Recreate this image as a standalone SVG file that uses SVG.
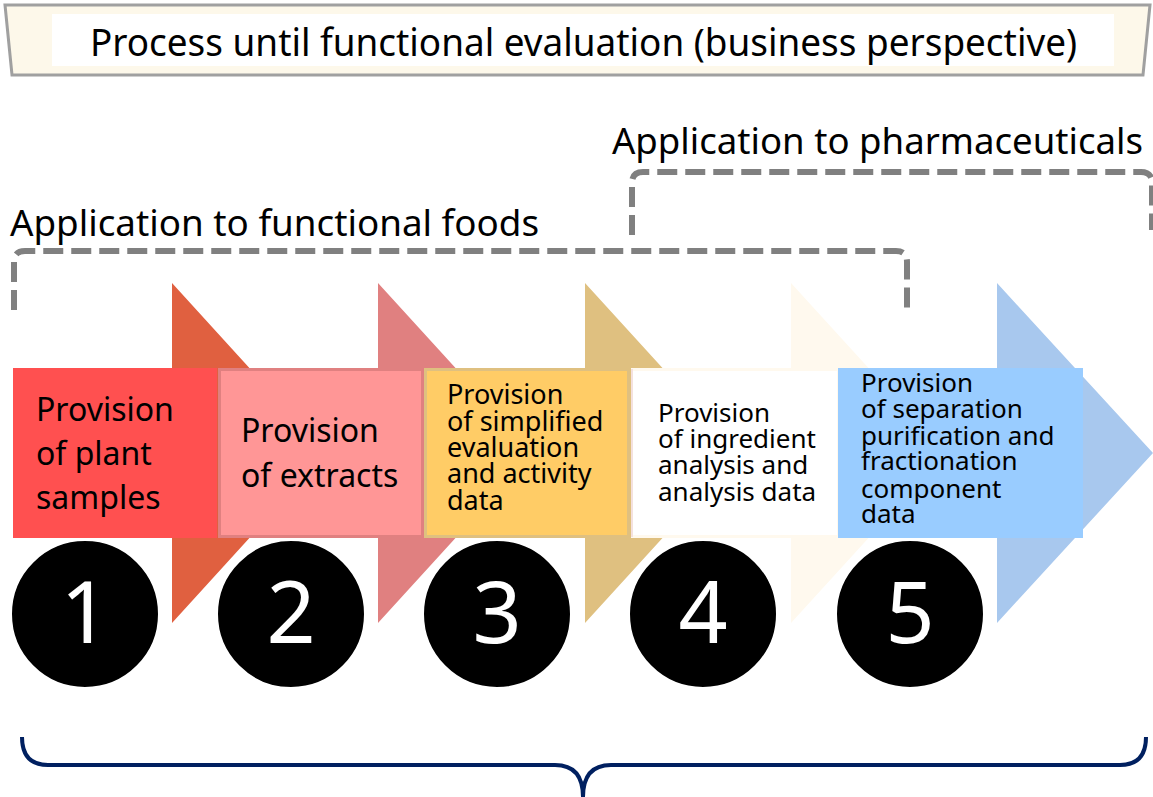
<svg xmlns="http://www.w3.org/2000/svg" width="1153" height="797" viewBox="0 0 1153 797">
<style>
.lbl{font-family:"Noto Sans","DejaVu Sans",sans-serif;fill:#000}
.big{font-size:32px}
.sm{font-size:26px}
.num{font-family:"Noto Sans","DejaVu Sans",sans-serif;font-size:86px;fill:#fff;text-anchor:middle}
.dash{fill:none;stroke:#808080;stroke-width:6;stroke-dasharray:20 8}
.circ{fill:#000;stroke:#fff;stroke-width:2}
.cap{font-family:"Noto Sans","DejaVu Sans",sans-serif;fill:#000}
</style>
<rect width="1153" height="797" fill="#fff"/>
<g id="title">
<polygon points="5,5 1150,5 1143,75 12,75" fill="#FDF8EA" stroke="#A0A0A0" stroke-width="3"/>
<rect x="52" y="14" width="1062" height="52" fill="#fff"/>
<text class="cap" x="90" y="56" font-size="38" textLength="987" lengthAdjust="spacingAndGlyphs">Process until functional evaluation (business perspective)</text>
</g>
<g id="connectors">
<path class="dash" d="M14,310 L14,262 Q14,251 25,251 L896,251 Q907,251 907,262 L907,310"/>
<path class="dash" d="M632,235 L632,183 Q632,172 643,172 L1141,172 Q1152,172 1152,183 L1152,230"/>
<path d="M22,737 C22,755 30,765 48,765 L555,765 C575,765 583,777 583,797 C583,777 591,765 611,765 L1120,765 C1138,765 1146,755 1146,737" fill="none" stroke="#002060" stroke-width="4"/>
</g>
<g id="label-foods"><text class="cap" x="10" y="236" font-size="37" textLength="529" lengthAdjust="spacingAndGlyphs">Application to functional foods</text></g>
<g id="label-pharma"><text class="cap" x="612" y="154" font-size="37" textLength="531" lengthAdjust="spacingAndGlyphs">Application to pharmaceuticals</text></g>
<g id="step1">
<polygon points="13,368 172,368 172,283 327,453 172,623 172,538 13,538" fill="#E06040"/>
<rect x="13" y="368" width="204" height="170" fill="#FF5050"/>
<text class="lbl big" x="36" y="421">Provision</text>
<text class="lbl big" x="36" y="465">of plant</text>
<text class="lbl big" x="36" y="509">samples</text>
</g>
<g id="step2">
<polygon points="218,368 378,368 378,283 533,453 378,623 378,538 218,538" fill="#E08080"/>
<rect x="221" y="371" width="200" height="164" fill="#FF9696"/>
<text class="lbl big" x="241" y="442">Provision</text>
<text class="lbl big" x="241" y="487">of extracts</text>
</g>
<g id="step3">
<polygon points="424,368 585,368 585,283 740,453 585,623 585,538 424,538" fill="#DFC080"/>
<rect x="427" y="371" width="200" height="164" fill="#FFCC66"/>
<text class="lbl" font-size="27" x="447" y="404">Provision</text>
<text class="lbl" font-size="27" x="447" y="431">of simplified</text>
<text class="lbl" font-size="27" x="447" y="457">evaluation</text>
<text class="lbl" font-size="27" x="447" y="483">and activity</text>
<text class="lbl" font-size="27" x="447" y="510">data</text>
</g>
<g id="step4">
<polygon points="631,368 791,368 791,283 946,453 791,623 791,538 631,538" fill="#FFF9EE"/>
<rect x="633" y="371" width="204" height="164" fill="#fff"/>
<line x1="632" y1="369" x2="632" y2="537" stroke="#F0D8D8" stroke-width="1.5"/>
<text class="lbl sm" x="658" y="422">Provision</text>
<text class="lbl sm" x="658" y="448">of ingredient</text>
<text class="lbl sm" x="658" y="474">analysis and</text>
<text class="lbl sm" x="658" y="501">analysis data</text>
</g>
<g id="step5">
<polygon points="838,368 997,368 997,283 1153,453 997,623 997,538 838,538" fill="#A8C8EE"/>
<rect x="838" y="368" width="245" height="170" fill="#99CCFF"/>
<text class="lbl sm" x="861" y="392">Provision</text>
<text class="lbl sm" x="861" y="418">of separation</text>
<text class="lbl sm" x="861" y="445">purification and</text>
<text class="lbl sm" x="861" y="470">fractionation</text>
<text class="lbl sm" x="861" y="498">component</text>
<text class="lbl sm" x="861" y="523">data</text>
</g>
<g id="num1"><circle class="circ" cx="85" cy="614" r="74"/><text class="num" x="85" y="643">1</text></g>
<g id="num2"><circle class="circ" cx="291" cy="614" r="74"/><text class="num" x="291" y="643">2</text></g>
<g id="num3"><circle class="circ" cx="497" cy="614" r="74"/><text class="num" x="497" y="643">3</text></g>
<g id="num4"><circle class="circ" cx="703" cy="614" r="74"/><text class="num" x="703" y="643">4</text></g>
<g id="num5"><circle class="circ" cx="910" cy="614" r="74"/><text class="num" x="910" y="643">5</text></g>
</svg>
